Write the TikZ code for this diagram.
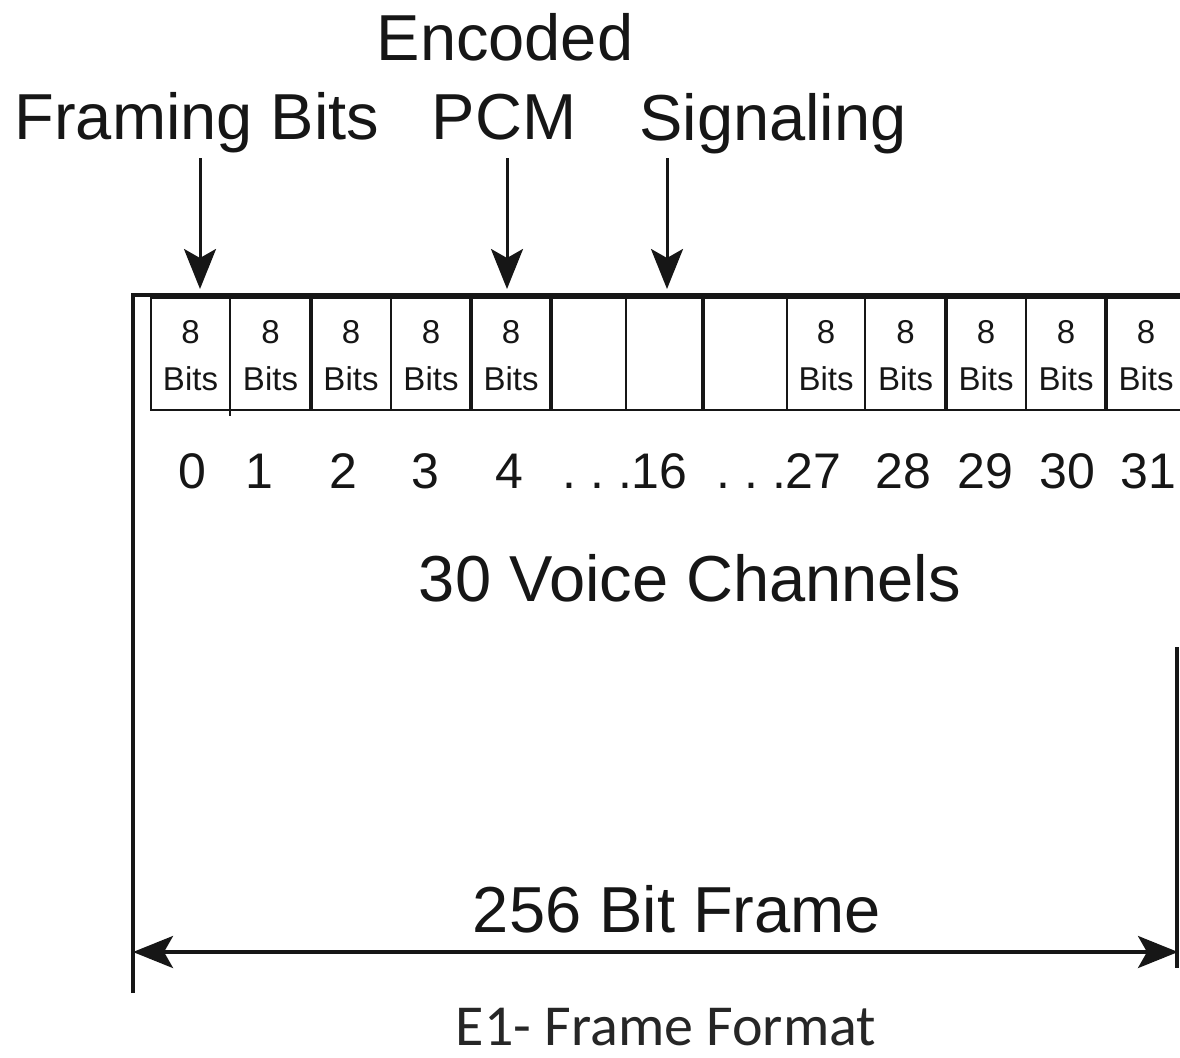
\documentclass[tikz,border=0pt]{standalone}
\usepackage{fontspec}
\setmainfont{Liberation Sans}
\newfontfamily\capfont{Carlito}
\usetikzlibrary{arrows.meta}
\definecolor{ink}{RGB}{22,22,22}
\definecolor{capink}{RGB}{38,38,38}
\begin{document}
\begin{tikzpicture}[x=1pt,y=-1pt,
  lbl/.style={inner sep=0pt, anchor=base, text=ink, font=\fontsize{65}{78}\selectfont},
  num/.style={inner sep=0pt, anchor=base, text=ink, font=\fontsize{50}{60}\selectfont},
  small/.style={inner sep=0pt, anchor=base, text=ink, font=\fontsize{33}{40}\selectfont},
  cellbox/.style={draw=ink, line width=2.5pt, inner sep=0pt, outer sep=0pt, minimum height=112pt, anchor=north west},
  thickdiv/.style={draw=ink, line width=4.5pt},
  pointer/.style={draw=ink, line width=3pt, -{Stealth[length=40pt,width=32pt,inset=9pt]}},
  frameline/.style={draw=ink, line width=3.5pt},
  dimline/.style={draw=ink, line width=3.5pt, {Stealth[length=40pt,width=32pt,inset=9pt]}-{Stealth[length=40pt,width=32pt,inset=9pt]}},
]
\useasboundingbox (0,0) rectangle (1180,1057);
\fill[white] (0,0) rectangle (1180,1057);

% top labels
\node[lbl] (enc) at (505,60) {Encoded};
\node[lbl] (framing) at (197,139) {Framing Bits};
\node[lbl] (pcm) at (504,139) {PCM};
\node[lbl] (sig) at (773,140) {Signaling};

% outer frame
\draw[frameline] (133,993) -- (133,295) -- (1186,295);
\draw[frameline] (1177,647) -- (1177,968);

% cells
\node[cellbox, minimum width=79pt] (c0) at (151,298) {};
\node[cellbox, minimum width=81pt] (c1) at (230,298) {};
\node[cellbox, minimum width=80pt] (c2) at (311,298) {};
\node[cellbox, minimum width=80pt] (c3) at (391,298) {};
\node[cellbox, minimum width=80pt] (c4) at (471,298) {};
\node[cellbox, minimum width=75pt] (c5) at (551,298) {};
\node[cellbox, minimum width=77pt] (c6) at (626,298) {};
\node[cellbox, minimum width=84pt] (c7) at (703,298) {};
\node[cellbox, minimum width=78pt] (c8) at (787,298) {};
\node[cellbox, minimum width=81pt] (c9) at (865,298) {};
\node[cellbox, minimum width=80pt] (c10) at (946,298) {};
\node[cellbox, minimum width=80pt] (c11) at (1026,298) {};
\node[cellbox, minimum width=80pt] (c12) at (1106,298) {};

\foreach \c in {c2,c4,c5,c7,c10,c12}{
  \draw[thickdiv] (\c.north west) -- (\c.south west);
}
\draw[draw=ink, line width=2.5pt] (c1.south west) -- ++(0,6);

% cell texts
\foreach \c/\i in {c0/0,c1/1,c2/2,c3/3,c4/4,c8/8,c9/9,c10/10,c11/11,c12/12}{
  \node[small] (e\i) at (\c.north |- 0,343) {8};
  \node[small] (b\i) at (\c.north |- 0,390) {Bits};
}

% pointers
\coordinate (fa) at (200,158);
\coordinate (pa) at (507,158);
\coordinate (sa) at (667,158);
\draw[pointer, shorten >=9pt] (fa) -- (fa |- c0.north);
\draw[pointer, shorten >=9pt] (pa) -- (pa |- c4.north);
\draw[pointer, shorten >=9pt] (sa) -- (sa |- c6.north);

% channel numbers
\node[num] (n0) at (192,488) {0};
\node[num] (n1) at (259,488) {1};
\node[num] (n2) at (343,488) {2};
\node[num] (n3) at (425,488) {3};
\node[num] (n4) at (509,488) {4};
\node[num] (n16) at (625,488) {.\ .\ .16};
\node[num] (n27) at (779,488) {.\ .\ .27};
\node[num] (n28) at (903,488) {28};
\node[num] (n29) at (985,488) {29};
\node[num] (n30) at (1067,488) {30};
\node[num] (n31) at (1148,488) {31};

\node[lbl] (voice) at (690,601) {30 Voice Channels};

% frame length
\node[lbl] (frame) at (677,932) {256 Bit Frame};
\coordinate (dl) at (133,952);
\coordinate (dr) at (1178,952);
\draw[dimline] (dl) -- (dr);

% caption
\node[inner sep=0pt, anchor=base, text=capink, font=\capfont\fontsize{58}{70}\selectfont] (cap) at (666,1045) {E1- Frame Format};
\end{tikzpicture}
\end{document}
